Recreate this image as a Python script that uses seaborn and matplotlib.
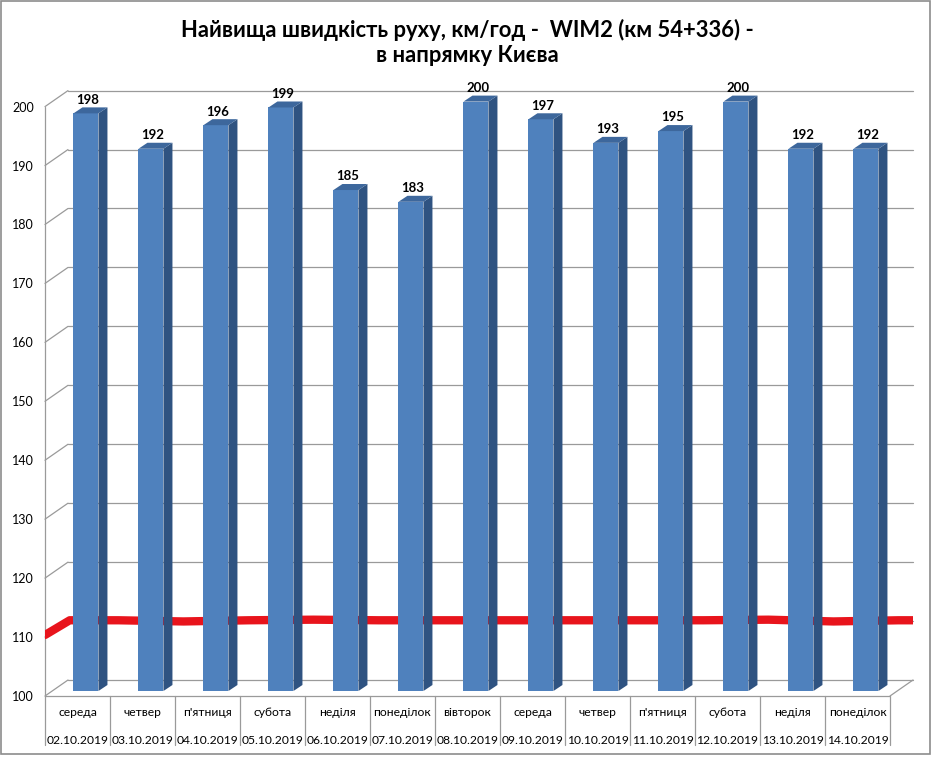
import matplotlib
matplotlib.use("Agg")
import matplotlib.pyplot as plt
import seaborn as sns
import numpy as np
import pandas as pd
from matplotlib.lines import Line2D
from matplotlib.patches import Polygon, Rectangle
from matplotlib.transforms import ScaledTranslation, blended_transform_factory

# ---- data ----
days = ["середа", "четвер", "п'ятниця", "субота", "неділя", "понеділок", "вівторок",
        "середа", "четвер", "п'ятниця", "субота", "неділя", "понеділок"]
dates = ["02.10.2019", "03.10.2019", "04.10.2019", "05.10.2019", "06.10.2019",
         "07.10.2019", "08.10.2019", "09.10.2019", "10.10.2019", "11.10.2019",
         "12.10.2019", "13.10.2019", "14.10.2019"]
speeds = [198, 192, 196, 199, 185, 183, 200, 197, 193, 195, 200, 192, 192]
# red reference line, values in the gaps around the bars (left of first .. right of last)
limit_start = 109.5
limit = [112.0, 112.0, 111.8, 112.0, 112.1, 112.0, 112.0, 112.0, 112.0, 112.0, 112.0, 112.1, 111.8, 112.0]
yticks = list(range(100, 201, 10))
title = "Найвища швидкість руху, км/год -  WIM2 (км 54+336) -\nв напрямку Києва"

sns.set_style("white")
plt.rcParams["font.family"] = ["Lato", "DejaVu Sans"]

W, H = 935, 757
fig = plt.figure(figsize=(W / 100, H / 100), dpi=100)
fig.patch.set_facecolor("white")

# axes geometry in image pixels
ax_l, ax_r, ax_b, ax_t = 45, 913, 691, 101.6
ax = fig.add_axes([ax_l / W, 1 - ax_b / H, (ax_r - ax_l) / W, (ax_b - ax_t) / H])

cell = 65.0
x0 = -0.63
xmax = x0 + (ax_r - ax_l) / cell
bar_w = 25 / cell

df = pd.DataFrame({"date": dates, "speed": speeds})
sns.barplot(data=df, x="date", y="speed", order=dates, color="#4f81bd",
            saturation=1, width=bar_w, ax=ax, zorder=2, linewidth=0)
ax.set_xlim(x0, xmax)
ax.set_ylim(100, 200)
ax.set_autoscale_on(False)
for s in ax.spines.values():
    s.set_visible(False)
ax.set_xlabel("")
ax.set_ylabel("")
ax.set_xticks([])
ax.set_yticks(yticks)
ax.set_yticklabels([str(v) for v in yticks], fontsize=9, color="#000000")
ax.tick_params(axis="y", length=0, pad=8)
for lab in ax.get_yticklabels():
    lab.set_transform(lab.get_transform() + ScaledTranslation(0, -5 / 100, fig.dpi_scale_trans))


def to_fig(px, py):
    return np.asarray(px) / W, np.asarray(py) / H


def disp(xd, yd):
    return ax.transData.transform((xd, yd))


def fline(xs, ys, color="#9a9a9a", lw=0.9, z=0.5):
    fx, fy = to_fig(xs, ys)
    ax.add_line(Line2D(fx, fy, transform=fig.transFigure, color=color, lw=lw,
                       zorder=z, clip_on=False))


front_x = disp(x0, 100)[0]
wall_x = front_x + 23
right_x = disp(xmax, 100)[0]
table_right = disp(x0 + 13, 100)[0]
back_dy, front_dy = 11, -5

# gridlines on back wall + diagonal ticks
for v in yticks:
    yb = disp(0, v)[1]
    fline([wall_x, right_x], [yb + back_dy] * 2)
    fline([front_x, wall_x], [yb + front_dy, yb + back_dy])
# front vertical axis
fline([front_x, front_x], [disp(0, 100)[1] + front_dy, disp(0, 200)[1] + front_dy])
# floor
y100 = disp(0, 100)[1]
fline([front_x, table_right], [y100 + front_dy] * 2)
fline([table_right, right_x], [y100 + front_dy, y100 + back_dy])
# category table
y_tab_bottom = H - 745
for k in range(14):
    xk = disp(x0 + k, 100)[0]
    fline([xk, xk], [y100 + front_dy, y_tab_bottom])

trans_lab = blended_transform_factory(ax.transData, fig.transFigure)
for i, (d, dt) in enumerate(zip(days, dates)):
    ax.text(i - 0.13, 1 - 713 / H, d, transform=trans_lab, ha="center", va="center",
            fontsize=8.7, color="#000000", clip_on=False)
    ax.text(i - 0.13, 1 - 740 / H, dt, transform=trans_lab, ha="center", va="center",
            fontsize=8.7, color="#000000", clip_on=False)

# red line (behind bars)
lx = [x0] + list(np.arange(-0.5, 13.0, 1.0)) + [xmax]
ly = [limit_start] + limit + [limit[-1]]
lx[1] = -0.25
sns.lineplot(x=lx, y=ly, ax=ax, color="#e8141c", lw=6, zorder=1,
             solid_capstyle="round", sort=False, estimator=None)
ax.set_xlim(x0, xmax)
ax.set_ylim(100, 200)

# 3D side and top faces
dx, dy = 9, 6
for p in ax.patches:
    if not isinstance(p, Rectangle) or p.get_width() <= 0:
        continue
    xl = p.get_x()
    xr = xl + p.get_width()
    top = p.get_y() + p.get_height()
    (pxl, pyt) = disp(xl, top)
    (pxr, pyb) = disp(xr, 100)
    side = [(pxr, pyb), (pxr, pyt), (pxr + dx, pyt + dy), (pxr + dx, pyb + dy)]
    topf = [(pxl, pyt), (pxr, pyt), (pxr + dx, pyt + dy), (pxl + dx, pyt + dy)]
    for pts, col in ((side, "#2f5381"), (topf, "#3d679c")):
        fp = [(a / W, b / H) for a, b in pts]
        ax.add_patch(Polygon(fp, closed=True, transform=fig.transFigure, facecolor=col,
                             edgecolor="none", zorder=2.1, clip_on=False))

# value labels
for i, v in enumerate(speeds):
    ax.annotate(str(v), (i + 0.03, v), xytext=(0, 5.5), textcoords="offset points",
                ha="center", va="bottom", fontsize=9.5, fontweight="bold",
                color="#000000", zorder=4, annotation_clip=False)

fig.text(0.5, 1 - 42.5 / H, title, ha="center", va="center", fontsize=15.8,
         fontweight="bold", color="#000000", linespacing=1.28)

# outer border
fig.add_artist(Rectangle((0.5 / W, 3 / H), 929.5 / W, 753.5 / H, transform=fig.transFigure,
                         fill=False, edgecolor="#8c8c8c", lw=1.2))

fig.savefig("out.png", dpi=100, facecolor="white")
